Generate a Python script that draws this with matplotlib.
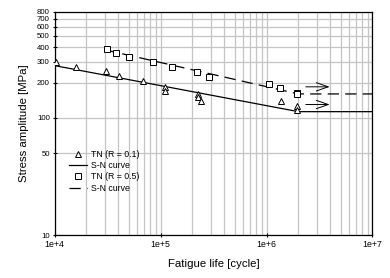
import matplotlib
matplotlib.use("Agg")
import matplotlib.pyplot as plt
from matplotlib.ticker import FixedLocator, FixedFormatter, NullFormatter

plt.rcParams["font.family"] = ["Liberation Sans", "DejaVu Sans"]

# test data, R = 0.1 (triangles)
tn01_life = [1.02e4, 1.59e4, 3.03e4, 4.04e4, 6.76e4, 1.11e5, 1.11e5,
             2.25e5, 2.25e5, 2.4e5, 1.37e6, 1.96e6, 1.96e6]
tn01_stress = [298, 270, 252, 228, 207, 183, 171, 159, 150, 138, 140, 127, 116]

# test data, R = 0.5 (squares)
tn05_life = [3.11e4, 3.76e4, 5.02e4, 8.4e4, 1.27e5, 2.21e5, 2.86e5,
             1.05e6, 1.33e6, 1.96e6, 1.96e6]
tn05_stress = [385, 360, 329, 302, 274, 248, 221, 194, 179, 164, 159]

# S-N curves (knee at 2e6, flat afterwards)
sn01_life = [1e4, 2e6, 1e7]
sn01_stress = [279, 113, 113]
sn05_life = [3e4, 2e6, 1e7]
sn05_stress = [380, 160, 160]

# run-out arrows
arrow_start = 2.35e6
arrow_end = 3.95e6
arrow_stress = [184, 130]

y_ticks = [10, 50, 100, 200, 300, 400, 500, 600, 700, 800]
x_ticks = [1e4, 1e5, 1e6, 1e7]
x_labels = ["1e+4", "1e+5", "1e+6", "1e+7"]

fig = plt.figure(figsize=(3.9, 2.78), dpi=100)
ax = fig.add_axes([0.140, 0.154, 0.815, 0.803])

ax.set_xscale("log")
ax.set_yscale("log")
ax.set_xlim(1e4, 1e7)
ax.set_ylim(10, 800)

ax.plot(tn01_life, tn01_stress, linestyle="none", marker="^", ms=4.5,
        mfc="white", mec="black", mew=0.7, label="TN (R = 0.1)", zorder=3)
ax.plot(sn01_life, sn01_stress, color="black", lw=0.9, label="S-N curve", zorder=2)
ax.plot(tn05_life, tn05_stress, linestyle="none", marker="s", ms=4,
        mfc="white", mec="black", mew=0.7, label="TN (R = 0.5)", zorder=3)
ax.plot(sn05_life, sn05_stress, color="black", lw=0.9, dashes=(9, 5),
        label="S-N curve", zorder=2)

for s in arrow_stress:
    ax.annotate("", xy=(arrow_end, s), xytext=(arrow_start, s),
                arrowprops=dict(arrowstyle="->,head_length=0.86,head_width=0.3",
                                color="black", lw=0.7, shrinkA=0, shrinkB=0))

ax.yaxis.set_major_locator(FixedLocator(y_ticks))
ax.yaxis.set_major_formatter(FixedFormatter([str(v) for v in y_ticks]))
ax.yaxis.set_minor_locator(FixedLocator([]))
ax.xaxis.set_major_locator(FixedLocator(x_ticks))
ax.xaxis.set_major_formatter(FixedFormatter(x_labels))
ax.xaxis.set_minor_formatter(NullFormatter())

ax.grid(True, which="major", axis="y", color="#c4c4c4", lw=0.9)
ax.grid(True, which="both", axis="x", color="#c4c4c4", lw=0.9)
ax.set_axisbelow(True)

ax.tick_params(axis="both", which="major", length=3, width=0.8,
               direction="inout", pad=2)
ax.tick_params(axis="x", which="major", labelsize=6.3)
ax.tick_params(axis="y", which="major", labelsize=5.6)
ax.tick_params(axis="x", which="minor", length=0)
for sp in ax.spines.values():
    sp.set_linewidth(0.9)
    sp.set_color("black")

ax.set_xlabel("Fatigue life [cycle]", fontsize=8.2, labelpad=7)
ax.set_ylabel("Stress amplitude [MPa]", fontsize=8.2, labelpad=6)

ax.legend(loc="lower left", bbox_to_anchor=(0.035, 0.175), frameon=False,
          fontsize=6.3, handlelength=2.0, handletextpad=0.5, labelspacing=0.25,
          borderaxespad=0)

fig.savefig("out.png", dpi=100)
